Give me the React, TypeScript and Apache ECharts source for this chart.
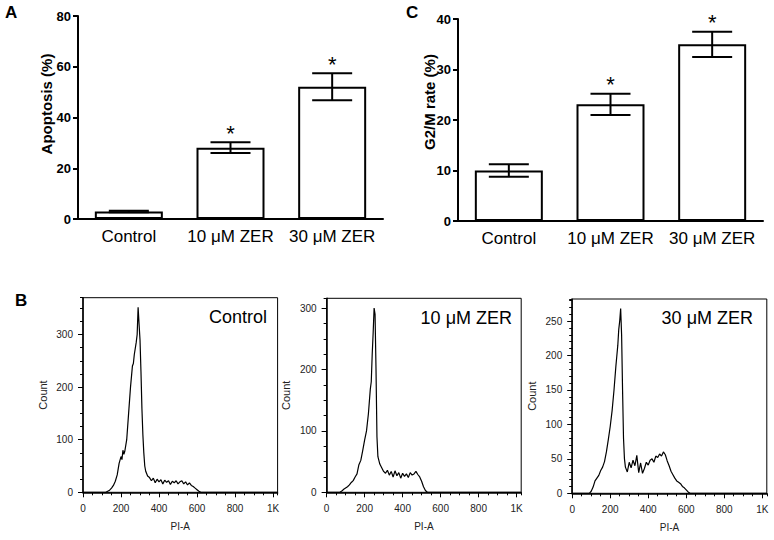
import React, { useEffect, useRef } from 'react';
import * as echarts from 'echarts';

const FONT = '"Liberation Sans", Arial, Helvetica, sans-serif';

// ---- Panel A & C data ----
const categories = ['Control', '10 μM ZER', '30 μM ZER'];
const apoptosisMean = [3, 28.1, 52.1];
const apoptosisErr = [0.3, 2.1, 5.3];
const apoptosisSig = [0, 1, 1];
const g2mMean = [10, 23.1, 35];
const g2mErr = [1.25, 2.1, 2.5];
const g2mSig = [0, 1, 1];

const apoptosisTicks = { min: 0, max: 80, interval: 20 };
const g2mTicks = { min: 0, max: 40, interval: 10 };

// ---- Panel B histogram data (PI-A channel, count) ----
const piControl = [0, 120, 130, 140, 150, 160, 170, 180, 190, 200, 205, 210, 215, 220, 230, 240, 250, 260, 265, 270, 280, 285, 290, 295, 300, 305, 310, 315, 320, 325, 330, 340, 350, 360, 370, 380, 390, 400, 410, 420, 430, 440, 450, 460, 470, 480, 490, 500, 510, 520, 530, 540, 550, 560, 570, 580, 590, 600, 610, 620, 1024];
const countControl = [0, 0, 2, 4, 8, 13, 21, 33, 55, 68, 62, 80, 72, 78, 100, 150, 200, 240, 245, 262, 285, 300, 352, 320, 290, 230, 160, 110, 75, 50, 40, 31, 28, 22, 27, 18, 25, 20, 24, 16, 23, 19, 22, 15, 21, 18, 22, 16, 20, 22, 16, 20, 14, 18, 13, 11, 8, 5, 2, 0, 0];

const pi10 = [0, 70, 80, 90, 100, 110, 120, 130, 140, 150, 160, 170, 180, 190, 200, 210, 220, 230, 235, 240, 245, 250, 255, 260, 265, 270, 280, 290, 300, 310, 320, 330, 340, 350, 360, 370, 380, 390, 400, 410, 420, 430, 440, 450, 460, 470, 480, 490, 500, 510, 520, 530, 1024];
const count10 = [0, 0, 2, 5, 7, 9, 12, 16, 19, 25, 30, 45, 52, 68, 85, 100, 128, 168, 180, 225, 260, 300, 290, 200, 90, 58, 46, 40, 34, 31, 36, 28, 34, 25, 35, 27, 32, 23, 31, 26, 30, 24, 32, 28, 30, 34, 29, 25, 18, 9, 3, 0, 0];

const pi30 = [0, 90, 100, 110, 120, 130, 140, 150, 160, 170, 180, 190, 200, 210, 220, 230, 235, 240, 245, 250, 255, 260, 265, 270, 275, 280, 290, 300, 310, 320, 330, 340, 350, 360, 370, 380, 390, 400, 410, 420, 430, 440, 450, 460, 470, 480, 490, 500, 510, 520, 530, 540, 550, 560, 570, 580, 590, 600, 610, 620, 1024];
const count30 = [0, 0, 3, 9, 18, 22, 26, 33, 38, 46, 60, 78, 97, 120, 150, 185, 200, 215, 238, 250, 268, 230, 150, 80, 50, 38, 31, 45, 37, 48, 40, 55, 30, 44, 29, 36, 45, 41, 48, 50, 45, 54, 52, 57, 54, 60, 56, 47, 40, 32, 27, 22, 18, 16, 14, 10, 8, 5, 2, 0, 0];

const xTicksPI = { min: 0, max: 1024, major: 200, minor: 50 };

const histograms = [
  { title: 'Control', pi: piControl, count: countControl, yMax: 370, yMajor: 100, yMinor: 25, grid: { left: 83, top: 297.7, width: 194.6, height: 194.6 }, titlePos: [267, 317] },
  { title: '10 μM ZER', pi: pi10, count: count10, yMax: 316, yMajor: 100, yMinor: 25, grid: { left: 326.6, top: 298.3, width: 194.6, height: 194 }, titlePos: [512, 318] },
  { title: '30 μM ZER', pi: pi30, count: count30, yMax: 282, yMajor: 50, yMinor: 10, grid: { left: 572.2, top: 299, width: 194.6, height: 194.3 }, titlePos: [753, 318] },
];

function errorBarSeries(axisIndex: number, means: number[], errs: number[], sig: number[]) {
  const lineStyle = { stroke: '#000', lineWidth: 2 };
  return {
    type: 'custom',
    xAxisIndex: axisIndex,
    yAxisIndex: axisIndex,
    z: 5,
    data: means.map((m, i) => [i, m - errs[i], m + errs[i], sig[i]]),
    renderItem: (params: any, api: any) => {
      const x = api.value(0);
      const lo = api.coord([x, api.value(1)]);
      const hi = api.coord([x, api.value(2)]);
      const half = 20;
      const children: any[] = [
        { type: 'line', shape: { x1: lo[0], y1: lo[1], x2: hi[0], y2: hi[1] }, style: lineStyle },
        { type: 'line', shape: { x1: lo[0] - half, y1: lo[1], x2: lo[0] + half, y2: lo[1] }, style: lineStyle },
        { type: 'line', shape: { x1: hi[0] - half, y1: hi[1], x2: hi[0] + half, y2: hi[1] }, style: lineStyle },
      ];
      if (api.value(3)) {
        children.push({
          type: 'text',
          x: hi[0],
          y: hi[1] - 9,
          style: { text: '*', font: `22px ${FONT}`, align: 'center', verticalAlign: 'middle', fill: '#000' },
        });
      }
      return { type: 'group', children };
    },
  };
}

function barAxes(gridIndex: number, ticks: { min: number; max: number; interval: number }) {
  const x = {
    type: 'category',
    gridIndex,
    data: categories,
    axisLine: { lineStyle: { color: '#000', width: 2 } },
    axisTick: { alignWithLabel: true, length: 5, lineStyle: { color: '#000', width: 2 } },
    axisLabel: { interval: 0, fontSize: 17, color: '#000', margin: 9, fontFamily: FONT },
    splitLine: { show: false },
  };
  const y = {
    type: 'value',
    gridIndex,
    min: ticks.min,
    max: ticks.max,
    interval: ticks.interval,
    axisLine: { show: true, lineStyle: { color: '#000', width: 2 } },
    axisTick: { show: true, length: 5, lineStyle: { color: '#000', width: 2 } },
    axisLabel: { fontSize: 13, fontWeight: 'bold', color: '#000', margin: 7, fontFamily: FONT },
    splitLine: { show: false },
  };
  return { x, y };
}

export default function App() {
  const ref = useRef<HTMLDivElement>(null);

  useEffect(() => {
    if (!ref.current) return;
    const chart = echarts.init(ref.current, undefined, { renderer: 'svg' });

    const grids: any[] = [
      { left: 78, top: 16, width: 305, height: 203 },
      { left: 458, top: 19, width: 305, height: 202 },
    ];
    const xAxes: any[] = [];
    const yAxes: any[] = [];
    const series: any[] = [];

    const a = barAxes(0, apoptosisTicks);
    const c = barAxes(1, g2mTicks);
    xAxes.push(a.x, c.x);
    yAxes.push(a.y, c.y);

    const barStyle = { color: '#fff', borderColor: '#000', borderWidth: 2 };
    series.push(
      { type: 'bar', xAxisIndex: 0, yAxisIndex: 0, data: apoptosisMean, barWidth: 68, itemStyle: barStyle },
      errorBarSeries(0, apoptosisMean, apoptosisErr, apoptosisSig),
      { type: 'bar', xAxisIndex: 1, yAxisIndex: 1, data: g2mMean, barWidth: 68, itemStyle: barStyle },
      errorBarSeries(1, g2mMean, g2mErr, g2mSig),
    );

    const graphics: any[] = [
      { type: 'text', x: 5, y: 4, style: { text: 'A', font: `bold 17px ${FONT}`, fill: '#000' } },
      { type: 'text', x: 406, y: 4, style: { text: 'C', font: `bold 17px ${FONT}`, fill: '#000' } },
      { type: 'text', x: 15, y: 292, style: { text: 'B', font: `bold 17px ${FONT}`, fill: '#000' } },
      { type: 'text', x: 46, y: 104, rotation: Math.PI / 2, style: { text: 'Apoptosis (%)', font: `bold 15px ${FONT}`, fill: '#000', align: 'center', verticalAlign: 'middle' } },
      { type: 'text', x: 429, y: 102, rotation: Math.PI / 2, style: { text: 'G2/M rate (%)', font: `bold 15px ${FONT}`, fill: '#000', align: 'center', verticalAlign: 'middle' } },
    ];

    histograms.forEach((h) => {
      const gi = grids.length;
      grids.push({ ...h.grid, show: true, borderColor: '#000', borderWidth: 1, backgroundColor: 'transparent' });
      const xi = xAxes.length;
      const yi = yAxes.length;
      xAxes.push(
        {
          type: 'value', gridIndex: gi, position: 'bottom', min: xTicksPI.min, max: xTicksPI.max, interval: xTicksPI.major,
          axisLine: { onZero: false, lineStyle: { color: '#000', width: 1.5 } },
          axisTick: { length: 5, lineStyle: { color: '#000' } },
          axisLabel: { showMaxLabel: false, fontSize: 10, color: '#222', margin: 11, fontFamily: FONT, formatter: (v: number) => (v === 1000 ? '1K' : String(v)) },
          splitLine: { show: false },
          name: 'PI-A', nameLocation: 'middle', nameGap: 29, nameTextStyle: { fontSize: 10, color: '#222', fontFamily: FONT },
        },
        {
          type: 'value', gridIndex: gi, position: 'bottom', min: xTicksPI.min, max: xTicksPI.max, interval: xTicksPI.minor,
          axisLine: { show: false, onZero: false },
          axisTick: { show: true, length: 3, lineStyle: { color: '#000', width: 1 } },
          axisLabel: { show: false },
          splitLine: { show: false },
        },
      );
      yAxes.push(
        {
          type: 'value', gridIndex: gi, position: 'left', min: 0, max: h.yMax, interval: h.yMajor,
          axisLine: { show: true, onZero: false, lineStyle: { color: '#000', width: 1.5 } },
          axisTick: { show: true, length: 5, lineStyle: { color: '#000' } },
          axisLabel: { showMaxLabel: false, fontSize: 10, color: '#222', margin: 10, fontFamily: FONT },
          splitLine: { show: false },
          name: 'Count', nameLocation: 'middle', nameGap: 35, nameTextStyle: { fontSize: 11, color: '#222', fontFamily: FONT },
        },
        {
          type: 'value', gridIndex: gi, position: 'left', min: 0, max: h.yMax, interval: h.yMinor,
          axisLine: { show: false, onZero: false },
          axisTick: { show: true, length: 3, lineStyle: { color: '#000', width: 1 } },
          axisLabel: { show: false },
          splitLine: { show: false },
        },
      );
      series.push({
        type: 'line', xAxisIndex: xi, yAxisIndex: yi,
        data: h.pi.map((p, k) => [p, h.count[k]]),
        showSymbol: false, symbol: 'none',
        lineStyle: { color: '#000', width: 1.2 },
        z: 3,
      });
      graphics.push({
        type: 'text', x: h.titlePos[0], y: h.titlePos[1],
        style: { text: h.title, font: `18px ${FONT}`, fill: '#000', align: 'right', verticalAlign: 'middle' },
      });
    });

    chart.setOption({
      animation: false,
      backgroundColor: '#fff',
      grid: grids,
      xAxis: xAxes,
      yAxis: yAxes,
      series,
      graphic: graphics,
    });

    return () => chart.dispose();
  }, []);

  return <div ref={ref} style={{ position: 'fixed', left: 0, top: 0, width: 774, height: 540 }} />;
}
